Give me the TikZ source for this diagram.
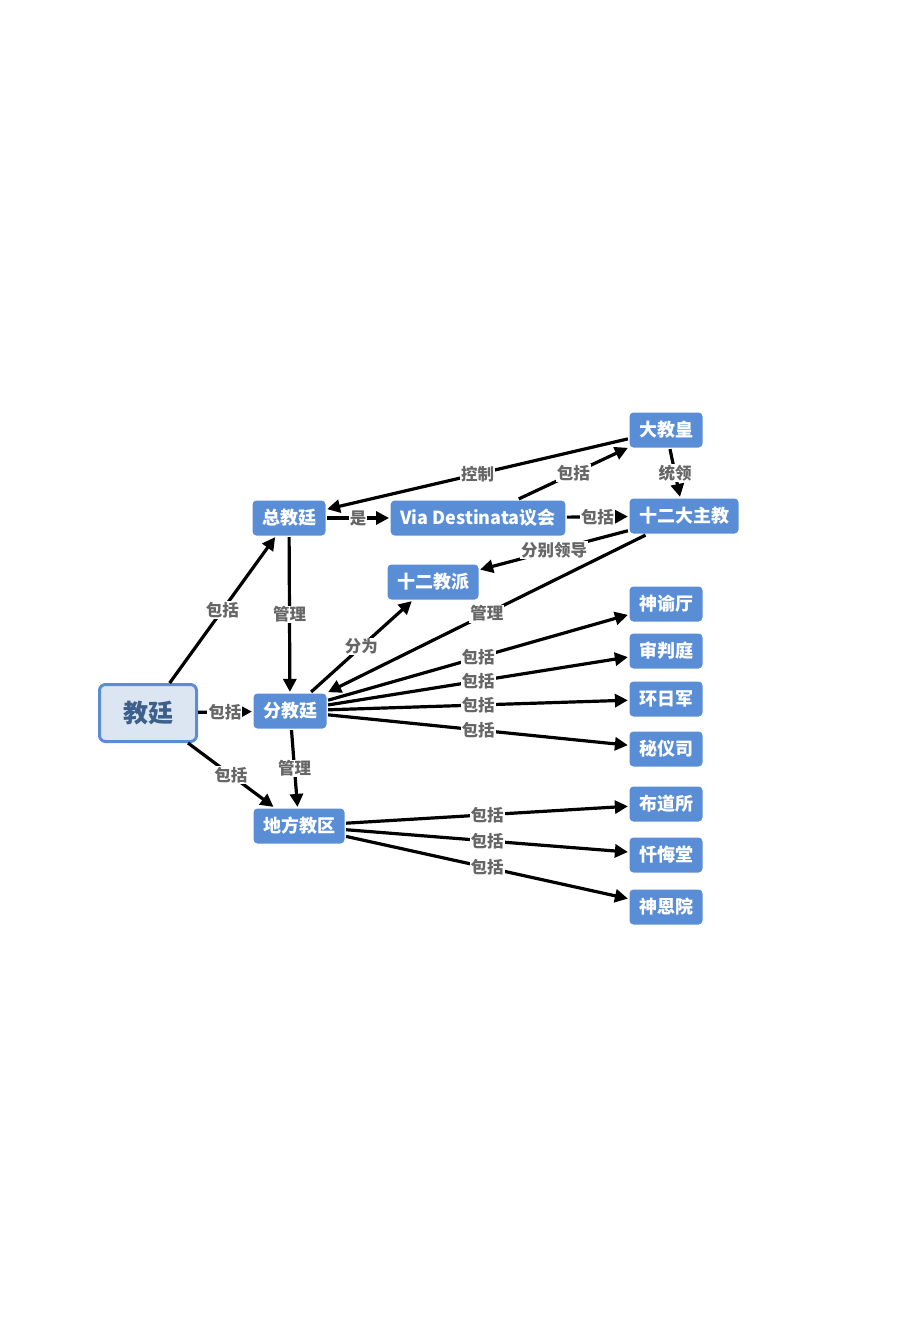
\documentclass[tikz,border=0pt]{standalone}
\usepackage{fontspec}
\setmainfont{Noto Sans CJK SC}
\usetikzlibrary{arrows.meta,positioning}
\definecolor{boxblue}{HTML}{598DD5}
\definecolor{rootfill}{HTML}{DCE5F2}
\definecolor{rootline}{HTML}{5A8DD3}
\definecolor{roottext}{HTML}{3D5F8C}
\definecolor{labgray}{HTML}{666666}

\begin{document}
\begin{tikzpicture}[x=1pt,y=-1pt,line width=3.2pt,>={Triangle[length=13pt,width=13pt]},
box/.style = {fill=boxblue, rounded corners=4pt, text=white, font=\bfseries\fontsize{18}{18}\selectfont, minimum height=35pt, inner xsep=9.5pt},
root/.style = {draw=rootline, fill=rootfill, line width=3pt, rounded corners=6pt, text=roottext, font=\bfseries\fontsize{25}{25}\selectfont, minimum width=97pt, minimum height=57pt},
lab/.style = {fill=white, text=labgray, font=\bfseries\fontsize{16.5}{16.5}\selectfont, inner sep=1pt},]
\useasboundingbox (0,0) rectangle (900,1333);
\node (jt) at (148,713)[root] {教廷};
\node (zjt) at (289,518)[box] {总教廷};
\node (via) at (478,518)[box] {Via Destinata议会};
\node (djh) at (666,430)[box] {大教皇};
\node (zj) at (684,516)[box] {十二大主教};
\node (jp) at (433,582)[box] {十二教派};
\node (fjt) at (290,711)[box] {分教廷};
\node (dq) at (299,826)[box] {地方教区};
\node (syt) at (666,604)[box] {神谕厅};
\node (spt) at (666,651)[box] {审判庭};
\node (hrj) at (666,699)[box] {环日军};
\node (mys) at (666,749)[box] {秘仪司};
\node (bds) at (666,804)[box] {布道所};
\node (chg) at (666,855)[box] {忏悔堂};
\node (ney) at (666,907)[box] {神恩院};
% 教廷
\draw[->] (jt)--node[lab]{包括}(zjt);
\draw[->] (jt)--node[lab]{包括}(fjt);
\draw[->] (jt)--node[lab]{包括}(dq);
% 总教廷 / 大教皇
\draw[->] (zjt)--node[lab]{是}(via);
\draw[->] (zjt)--node[lab]{管理}(fjt);
\draw[->] (via)--node[lab]{包括}(djh);
\draw[->] (via)--node[lab]{包括}(zj);
\draw[->] (djh)--node[lab]{控制}(zjt);
\draw[->] (djh)--node[lab]{统领}(zj);
\draw[->] (zj)--node[lab]{分别领导}(jp);
\draw[->] (zj)--node[lab]{管理}(fjt);
% 分教廷
\draw[->] (fjt)--node[lab]{分为}(jp);
\draw[->] (fjt)--node[lab]{管理}(dq);
\draw[->] (fjt)--node[lab]{包括}(syt);
\draw[->] (fjt)--node[lab]{包括}(spt);
\draw[->] (fjt)--node[lab]{包括}(hrj);
\draw[->] (fjt)--node[lab]{包括}(mys);
% 地方教区
\draw[->] (dq)--node[lab]{包括}(bds);
\draw[->] (dq)--node[lab]{包括}(chg);
\draw[->] (dq)--node[lab]{包括}(ney);
\end{tikzpicture}
\end{document}
